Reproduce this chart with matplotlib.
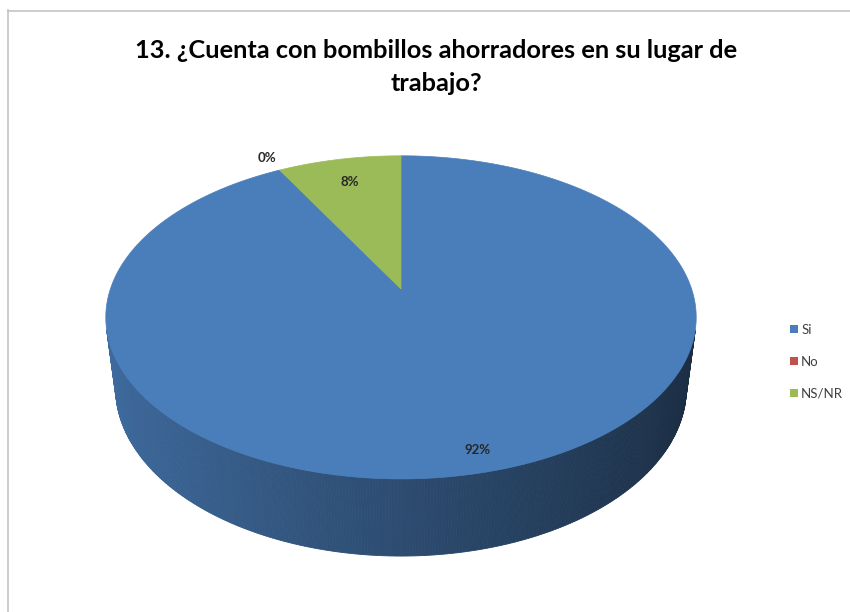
import numpy as np
import matplotlib
matplotlib.use("Agg")
import matplotlib.pyplot as plt
from matplotlib.patches import Polygon, Patch
from matplotlib.lines import Line2D

# Survey answers
categories = ["Si", "No", "NS/NR"]
values = [92, 0, 8]
labels = ["92%", "0%", "8%"]
colors = ["#4A7EBB", "#C0504D", "#9BBB59"]
title = "13. ¿Cuenta con bombillos ahorradores en su lugar de\ntrabajo?"

W, H = 850, 612
fig = plt.figure(figsize=(W / 100, H / 100), dpi=100)
ax = fig.add_axes([0, 0, 1, 1])
ax.set_xlim(0, W)
ax.set_ylim(H, 0)
ax.axis("off")

# chart frame (top and left edges)
ax.add_line(Line2D([8, W], [10.5, 10.5], color="#c4c4c4", lw=1.2))
ax.add_line(Line2D([8.5, 8.5], [10, H], color="#c4c4c4", lw=1.2))

# perspective camera for the 3-D pie
cx, cy = 401.0, 289.0
f = 1395.0
D = 4.8
tilt = np.deg2rad(32.6)
s, c = np.sin(tilt), np.cos(tilt)
depth_h = 0.296


def proj(X, Y, Z):
    d = D + Y * c - Z * s
    return cx + f * X / d, cy - f * (Y * s + Z * c) / d


def shade(rgb_hex, k):
    r, g, b = matplotlib.colors.to_rgb(rgb_hex)
    return (r * k, g * k, b * k)


total = float(sum(values))
starts = np.concatenate([[0], np.cumsum(values)[:-1]]) / total * 2 * np.pi
ends = np.cumsum(values) / total * 2 * np.pi

# outer walls (only the part facing the camera)
ylim_vis = -1.0 / (D * c)
for a0, a1, col in zip(starts, ends, colors):
    if a1 - a0 <= 0:
        continue
    n = max(int(np.degrees(a1 - a0) * 2), 2)
    th = np.linspace(a0, a1, n + 1)
    for t0, t1 in zip(th[:-1], th[1:]):
        tm = 0.5 * (t0 + t1)
        if np.cos(tm) > ylim_vis:
            continue
        xm = np.sin(tm)
        k = 0.60 - 0.25 * xm
        fc = shade(col, k)
        pts = [proj(np.sin(t0), np.cos(t0), 0), proj(np.sin(t1), np.cos(t1), 0),
               proj(np.sin(t1), np.cos(t1), -depth_h), proj(np.sin(t0), np.cos(t0), -depth_h)]
        ax.add_patch(Polygon(pts, closed=True, facecolor=fc, edgecolor=fc, lw=0.6))

# top faces
for a0, a1, col in zip(starts, ends, colors):
    if a1 - a0 <= 0:
        continue
    th = np.linspace(a0, a1, max(int(np.degrees(a1 - a0) * 2), 2) + 1)
    pts = [proj(0, 0, 0)] + [proj(np.sin(t), np.cos(t), 0) for t in th]
    ax.add_patch(Polygon(pts, closed=True, facecolor=col, edgecolor=col, lw=0.5))

# data labels
label_r = [0.9, 1.12, 0.8]
for a0, a1, lab, r in zip(starts, ends, labels, label_r):
    tm = 0.5 * (a0 + a1)
    x, y = proj(r * np.sin(tm), r * np.cos(tm), 0)
    ax.text(x, y, lab, ha="center", va="center", fontsize=9.5, fontweight="bold",
            family="Lato", color="#262626")

ax.text(436, 67, title, ha="center", va="center", fontsize=18.3, fontweight="bold",
        family="Lato", color="#000000", linespacing=1.5)

handles = [Patch(facecolor=col, edgecolor="none") for col in colors]
fig.legend(handles, categories, loc="upper left", bbox_to_anchor=(786 / W, 1 - 320 / H),
           frameon=False, handlelength=0.6, handleheight=0.6,
           handletextpad=0.25, labelspacing=1.5, labelcolor="#404040",
           borderaxespad=0, borderpad=0.3,
           prop={"family": "Lato", "size": 9.5})

fig.savefig("out.png", dpi=100)
